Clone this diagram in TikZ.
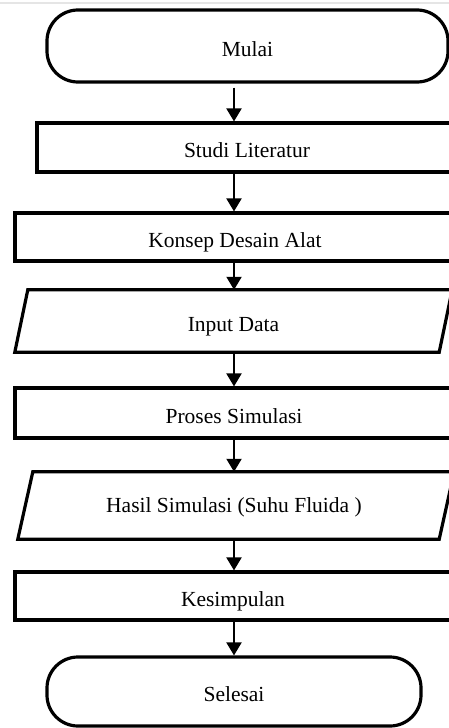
\documentclass[tikz,border=0pt]{standalone}
\usepackage{fontspec}
\setmainfont{Liberation Serif}
\usetikzlibrary{arrows.meta}
\begin{document}
\begin{tikzpicture}[x=1pt,y=-1pt,
  shapeline/.style={line width=3.2pt, line join=miter},
  txt/.style={font=\fontsize{21.5}{25}\selectfont, text height=20pt, text depth=0pt, inner sep=0pt},
  termbox/.style={txt, shapeline, draw, rounded corners=31pt},
  procbox/.style={txt, shapeline, draw},
  iobox/.style={txt},
  flow/.style={line width=2pt, -{Triangle[width=15pt,length=13pt]}}
]
\fill[white] (0,0) rectangle (449,728);
\useasboundingbox (0,0) rectangle (449,728);
\draw[gray!20, line width=1.5pt] (0,3) -- (449,3);

\node[termbox, minimum width=401pt, minimum height=72pt] (mulai) at (247.5,46) {Mulai};
\node[procbox, minimum width=420pt, minimum height=49pt] (studi) at (247,147.5) {Studi Literatur};
\node[procbox, minimum width=440pt, minimum height=48pt] (konsep) at (235,237) {Konsep Desain Alat};
\node[iobox, minimum width=437pt, minimum height=62pt] (input) at (233.5,321) {Input Data};
\draw[shapeline] ([xshift=13pt]input.north west) -- (input.north east) -- ([xshift=-13pt]input.south east) -- (input.south west) -- cycle;
\node[procbox, minimum width=438pt, minimum height=50pt] (proses) at (234,413) {Proses Simulasi};
\node[iobox, minimum width=436pt, minimum height=67pt, text height=14pt] (hasil) at (236,505.5) {\hspace*{-4pt}Hasil Simulasi (Suhu Fluida )};
\draw[shapeline] ([xshift=15pt]hasil.north west) -- (hasil.north east) -- ([xshift=-15pt]hasil.south east) -- (hasil.south west) -- cycle;
\node[procbox, minimum width=436pt, minimum height=48pt] (kesimpulan) at (233,596) {Kesimpulan};
\node[termbox, minimum width=374pt, minimum height=69pt] (selesai) at (234,691.5) {Selesai};

\draw[flow, shorten <=4pt] (mulai.south -| 234,0) -- (studi.north -| 234,0);
\draw[flow] (studi.south -| 234,0) -- (konsep.north -| 234,0);
\draw[flow] (konsep.south -| 234,0) -- (input.north -| 234,0);
\draw[flow] (input.south -| 234,0) -- (proses.north -| 234,0);
\draw[flow] (proses.south -| 234,0) -- (hasil.north -| 234,0);
\draw[flow] (hasil.south -| 234,0) -- (kesimpulan.north -| 234,0);
\draw[flow] (kesimpulan.south -| 234,0) -- (selesai.north -| 234,0);
\end{tikzpicture}
\end{document}
